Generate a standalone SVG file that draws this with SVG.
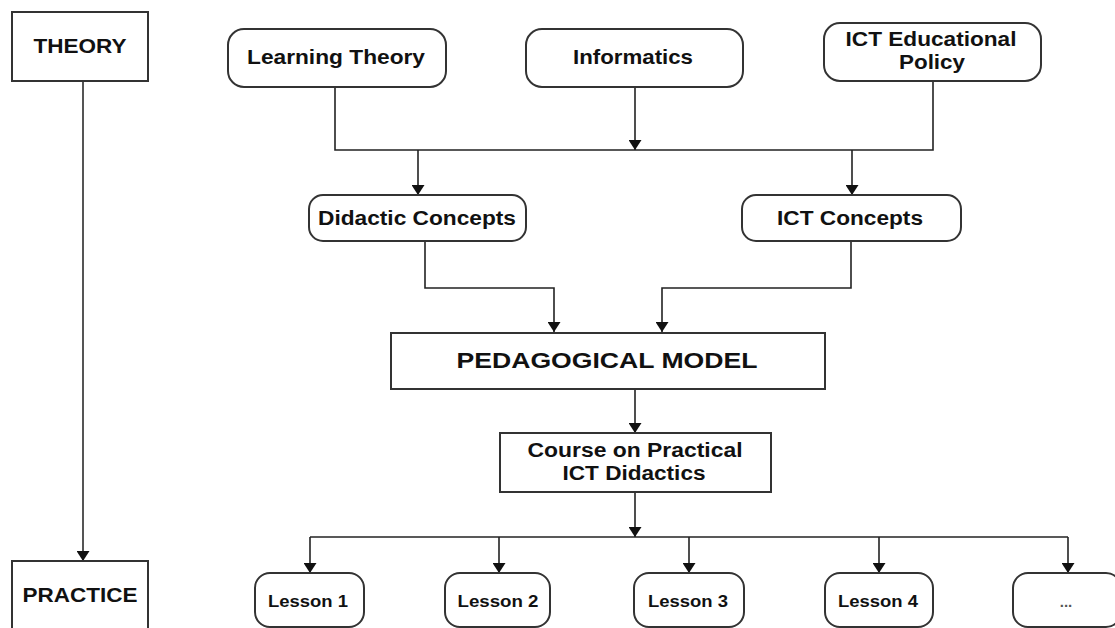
<svg xmlns="http://www.w3.org/2000/svg" width="1115" height="628" viewBox="0 0 1115 628">
  <defs>
    <marker id="arrow" viewBox="0 0 10 13" refX="10" refY="6.5" markerWidth="10" markerHeight="13" markerUnits="userSpaceOnUse" orient="auto">
      <path d="M0,0 L10,6.5 L0,13 Z" fill="#111"/>
    </marker>
    <style>
      .box { fill: #fff; stroke: #333; stroke-width: 2; }
      .wire { fill: none; stroke: #222; stroke-width: 1.6; }
      .axis { fill: none; stroke: #555; stroke-width: 2; }
      text { font-family: "Liberation Sans", Arial, sans-serif; font-weight: bold; fill: #111; text-anchor: middle; }
      .t20 { font-size: 20.5px; }
      .t19 { font-size: 19.5px; }
      .t21 { font-size: 21px; }
      .t22 { font-size: 22px; }
      .t16 { font-size: 16px; }
      .dots { font-size: 15px; fill: #555; }
    </style>
  </defs>
  <rect width="1115" height="628" fill="#fff"/>

  <!-- connectors -->
  <g id="connectors">
    <path class="axis" d="M83,81 V561" marker-end="url(#arrow)"/>
    <path class="wire" d="M335,87 V150 H933 V81"/>
    <path class="wire" d="M635,87 V150" marker-end="url(#arrow)"/>
    <path class="wire" d="M418,150 V195" marker-end="url(#arrow)"/>
    <path class="wire" d="M852,150 V195" marker-end="url(#arrow)"/>
    <path class="wire" d="M425,241 V288 H554 V332" marker-end="url(#arrow)"/>
    <path class="wire" d="M851,241 V288 H662 V332" marker-end="url(#arrow)"/>
    <path class="wire" d="M635,389 V433" marker-end="url(#arrow)"/>
    <path class="wire" d="M635,492 V537" marker-end="url(#arrow)"/>
    <path class="wire" d="M310,537 H1068"/>
    <path class="wire" d="M310,537 V573" marker-end="url(#arrow)"/>
    <path class="wire" d="M499,537 V573" marker-end="url(#arrow)"/>
    <path class="wire" d="M689,537 V573" marker-end="url(#arrow)"/>
    <path class="wire" d="M879,537 V573" marker-end="url(#arrow)"/>
    <path class="wire" d="M1068,537 V573" marker-end="url(#arrow)"/>
  </g>

  <!-- side axis labels -->
  <g id="theory">
    <rect class="box" x="12" y="12" width="136" height="69"/>
    <text class="t21" x="80" y="53" textLength="93" lengthAdjust="spacingAndGlyphs">THEORY</text>
  </g>
  <g id="practice">
    <rect class="box" x="12" y="561" width="136" height="80"/>
    <text class="t21" x="80" y="602" textLength="115" lengthAdjust="spacingAndGlyphs">PRACTICE</text>
  </g>

  <!-- theoretical sources -->
  <g id="learning-theory">
    <rect class="box" x="228" y="29" width="218" height="58" rx="16"/>
    <text class="t20" x="336" y="64" textLength="178" lengthAdjust="spacingAndGlyphs">Learning Theory</text>
  </g>
  <g id="informatics">
    <rect class="box" x="526" y="29" width="217" height="58" rx="16"/>
    <text class="t20" x="633" y="64" textLength="120" lengthAdjust="spacingAndGlyphs">Informatics</text>
  </g>
  <g id="ict-policy">
    <rect class="box" x="824" y="23" width="217" height="58" rx="16"/>
    <text class="t20" x="931" y="46" textLength="171" lengthAdjust="spacingAndGlyphs">ICT Educational</text>
    <text class="t20" x="932" y="69" textLength="66" lengthAdjust="spacingAndGlyphs">Policy</text>
  </g>

  <!-- concepts -->
  <g id="didactic-concepts">
    <rect class="box" x="309" y="195" width="217" height="46" rx="14"/>
    <text class="t19" x="417" y="225" textLength="198" lengthAdjust="spacingAndGlyphs">Didactic Concepts</text>
  </g>
  <g id="ict-concepts">
    <rect class="box" x="742" y="195" width="219" height="46" rx="14"/>
    <text class="t19" x="850" y="225" textLength="146" lengthAdjust="spacingAndGlyphs">ICT Concepts</text>
  </g>

  <!-- model and course -->
  <g id="pedagogical-model">
    <rect class="box" x="391" y="333" width="434" height="56" stroke-width="2.4"/>
    <text class="t22" x="607" y="368" textLength="301" lengthAdjust="spacingAndGlyphs">PEDAGOGICAL MODEL</text>
  </g>
  <g id="course">
    <rect class="box" x="500" y="433" width="271" height="59"/>
    <text class="t19" x="635" y="457" textLength="215" lengthAdjust="spacingAndGlyphs">Course on Practical</text>
    <text class="t19" x="634" y="480" textLength="143" lengthAdjust="spacingAndGlyphs">ICT Didactics</text>
  </g>

  <!-- lessons -->
  <g id="lesson-1">
    <rect class="box" x="255" y="573" width="109" height="54" rx="15"/>
    <text class="t16" x="308" y="607" textLength="80" lengthAdjust="spacingAndGlyphs">Lesson 1</text>
  </g>
  <g id="lesson-2">
    <rect class="box" x="445" y="573" width="105" height="54" rx="15"/>
    <text class="t16" x="498" y="607" textLength="81" lengthAdjust="spacingAndGlyphs">Lesson 2</text>
  </g>
  <g id="lesson-3">
    <rect class="box" x="634" y="573" width="110" height="54" rx="15"/>
    <text class="t16" x="688" y="607" textLength="80" lengthAdjust="spacingAndGlyphs">Lesson 3</text>
  </g>
  <g id="lesson-4">
    <rect class="box" x="825" y="573" width="108" height="54" rx="15"/>
    <text class="t16" x="878" y="607" textLength="80" lengthAdjust="spacingAndGlyphs">Lesson 4</text>
  </g>
  <g id="lesson-more">
    <rect class="box" x="1013" y="573" width="108" height="54" rx="15"/>
    <text class="dots" x="1066" y="607">...</text>
  </g>
</svg>
